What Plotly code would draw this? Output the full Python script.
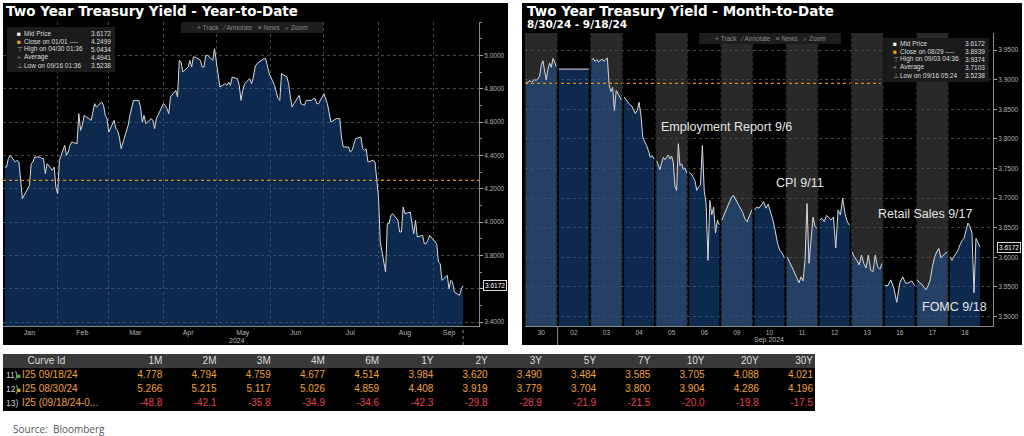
import pandas as pd
import plotly.graph_objects as go

W, H = 1024, 436

# ---- YTD panel: 2Y yield per trading day ----
ytd_jan = [4.33, 4.33, 4.38, 4.40, 4.36, 4.37, 4.36, 4.25, 4.14, 4.22, 4.35, 4.36, 4.39, 4.39, 4.38, 4.38, 4.29, 4.35, 4.31, 4.33, 4.21]
ytd_feb = [4.17, 4.37, 4.46, 4.40, 4.42, 4.46, 4.48, 4.47, 4.65, 4.55, 4.58, 4.64, 4.61, 4.66, 4.71, 4.69, 4.72, 4.70, 4.64, 4.62]
ytd_mar = [4.54, 4.61, 4.56, 4.55, 4.51, 4.44, 4.54, 4.58, 4.64, 4.69, 4.73, 4.73, 4.69, 4.60, 4.64, 4.59, 4.62, 4.61, 4.56, 4.62]
ytd_apr = [4.71, 4.70, 4.68, 4.65, 4.75, 4.79, 4.75, 4.97, 4.96, 4.90, 4.93, 4.97, 4.93, 4.99, 4.99, 4.97, 4.93, 4.93, 5.00, 5.00, 4.97, 5.04]
ytd_may = [4.96, 4.88, 4.81, 4.83, 4.82, 4.84, 4.82, 4.87, 4.86, 4.82, 4.73, 4.79, 4.83, 4.86, 4.83, 4.87, 4.93, 4.95, 4.98, 4.98, 4.93, 4.89]
ytd_jun = [4.82, 4.77, 4.74, 4.73, 4.89, 4.87, 4.83, 4.75, 4.69, 4.71, 4.76, 4.71, 4.70, 4.73, 4.73, 4.74, 4.74, 4.71, 4.71]
ytd_jul = [4.77, 4.74, 4.71, 4.60, 4.62, 4.62, 4.62, 4.51, 4.45, 4.45, 4.42, 4.43, 4.46, 4.50, 4.51, 4.44, 4.43, 4.44, 4.36, 4.37, 4.36, 4.26]
ytd_aug = [4.15, 3.88, 3.70, 3.99, 3.99, 4.04, 4.05, 4.01, 3.94, 3.94, 4.09, 4.05, 4.06, 3.99, 3.93, 4.01, 3.91, 3.92, 3.87, 3.87, 3.89, 3.92]
ytd_sep = [3.87, 3.76, 3.75, 3.65, 3.68, 3.60, 3.65, 3.64, 3.58, 3.56, 3.60, 3.6172]
holidays = ["2024-01-15", "2024-02-19", "2024-03-29", "2024-05-27", "2024-06-19", "2024-07-04", "2024-09-02"]

# month labels sit in the middle of the data shown for each month
ytd_month_ticks = ["2024-01-16", "2024-02-15", "2024-03-16", "2024-04-15", "2024-05-16",
                   "2024-06-15", "2024-07-16", "2024-08-16", "2024-09-10"]
ytd_month_names = ["Jan", "Feb", "Mar", "Apr", "May", "Jun", "Jul", "Aug", "Sep"]
# y labels; 3.6000 is hidden behind the last-price tag
ytd_yticks = [3.4, 3.6, 3.8, 4.0, 4.2, 4.4, 4.6, 4.8, 5.0]
ytd_ylabels = ["3.4000", "", "3.8000", "4.0000", "4.2000", "4.4000", "4.6000", "4.8000", "5.0000"]

ytd_close_ref = 4.2499
ytd_legend_labels = ["Mid Price", "Close on 01/01 ----", "High on 04/30 01:36", "Average", "Low on 09/16 01:36"]
ytd_legend_values = ["3.6172", "4.2499", "5.0434", "4.4941", "3.5238"]

# ---- MTD panel: intraday points per session ----
mtd_days = ["30", "02", "03", "04", "05", "06", "09", "10", "11", "12", "13", "16", "17", "18"]
d30 = [3.897, 3.895, 3.899, 3.896, 3.898, 3.900, 3.899, 3.903, 3.906, 3.925, 3.932, 3.915, 3.900, 3.918, 3.928, 3.921, 3.936, 3.930, 3.922]
d02 = [3.918, 3.918]
d03 = [3.933, 3.936, 3.931, 3.934, 3.930, 3.933, 3.935, 3.931, 3.934, 3.937, 3.892, 3.880, 3.887, 3.848, 3.882, 3.876, 3.871, 3.866]
d04 = [3.871, 3.866, 3.862, 3.858, 3.856, 3.850, 3.843, 3.848, 3.862, 3.840, 3.803, 3.795, 3.789, 3.780, 3.769, 3.772, 3.766]
d05 = [3.763, 3.757, 3.748, 3.760, 3.769, 3.765, 3.770, 3.773, 3.766, 3.771, 3.760, 3.719, 3.713, 3.792, 3.755, 3.758, 3.749, 3.751, 3.742]
d06 = [3.744, 3.741, 3.736, 3.730, 3.713, 3.719, 3.722, 3.789, 3.712, 3.690, 3.595, 3.696, 3.672, 3.685, 3.641, 3.663, 3.655]
d09 = [3.663, 3.672, 3.680, 3.690, 3.700, 3.705, 3.698, 3.691, 3.683, 3.676, 3.665, 3.660, 3.671, 3.680]
d10 = [3.680, 3.685, 3.683, 3.688, 3.694, 3.683, 3.690, 3.676, 3.663, 3.645, 3.624, 3.612, 3.607, 3.599]
d11 = [3.601, 3.595, 3.587, 3.580, 3.573, 3.565, 3.557, 3.567, 3.560, 3.595, 3.691, 3.590, 3.624, 3.668, 3.652, 3.649]
d12 = [3.663, 3.666, 3.660, 3.671, 3.667, 3.663, 3.668, 3.616, 3.680, 3.672, 3.700, 3.674, 3.660, 3.654]
d13 = [3.609, 3.600, 3.595, 3.587, 3.604, 3.590, 3.582, 3.604, 3.578, 3.576, 3.604, 3.584, 3.580, 3.590]
d16 = [3.553, 3.552, 3.562, 3.548, 3.524, 3.557, 3.567, 3.556, 3.557, 3.560, 3.552]
d17 = [3.562, 3.557, 3.555, 3.550, 3.545, 3.552, 3.562, 3.584, 3.600, 3.609, 3.615, 3.599, 3.604, 3.607, 3.609]
d18 = [3.601, 3.595, 3.601, 3.606, 3.612, 3.621, 3.628, 3.632, 3.645, 3.658, 3.652, 3.641, 3.540, 3.632, 3.625, 3.617]
mtd_values = [d30, d02, d03, d04, d05, d06, d09, d10, d11, d12, d13, d16, d17, d18]

mtd_close_ref = 3.8939
mtd_legend_labels = ["Mid Price", "Close on 08/29 ----", "High on 09/03 04:36", "Average", "Low on 09/16 05:24"]
mtd_legend_values = ["3.6172", "3.8939", "3.9374", "3.7103", "3.5238"]

events = ["Employment Report 9/6", "CPI 9/11", "Retail Sales 9/17", "FOMC 9/18"]

# ---- curve table ----
tenors = ["1M", "2M", "3M", "4M", "6M", "1Y", "2Y", "3Y", "5Y", "7Y", "10Y", "20Y", "30Y"]
curve_rows = ["I25 09/18/24", "I25 08/30/24", "I25 (09/18/24-0..."]
curve_row_ids = ["11)", "12)", "13)"]
curve_0918 = [4.778, 4.794, 4.759, 4.677, 4.514, 3.984, 3.620, 3.490, 3.484, 3.585, 3.705, 4.088, 4.021]
curve_0830 = [5.266, 5.215, 5.117, 5.026, 4.859, 4.408, 3.919, 3.779, 3.704, 3.800, 3.904, 4.286, 4.196]
curve_chg = [-48.8, -42.1, -35.8, -34.9, -34.6, -42.3, -29.8, -28.9, -21.9, -21.5, -20.0, -19.8, -17.5]


def px(x):
    return x / W


def py(y):
    return 1 - y / H


FILL = "rgba(30,95,178,0.44)"
LINE = "#d9d9d9"
GRID = "#474747"
AXIS_TXT = "#b4b4b4"
ORANGE = "#f0a23c"
RED = "#e8414b"
TXT = "Liberation Sans"

fig = go.Figure()

# YTD series
ytd_dates = pd.bdate_range("2024-01-02", "2024-09-18").difference(pd.to_datetime(holidays))
ytd_values = ytd_jan + ytd_feb + ytd_mar + ytd_apr + ytd_may + ytd_jun + ytd_jul + ytd_aug + ytd_sep
n = min(len(ytd_dates), len(ytd_values))
fig.add_trace(go.Scatter(
    x=ytd_dates[:n], y=ytd_values[:n], mode="lines",
    line=dict(color=LINE, width=1), fill="tozeroy", fillcolor=FILL,
    xaxis="x", yaxis="y", hoverinfo="skip", showlegend=False,
))

# MTD sessions, one trace each
for i, vals in enumerate(mtd_values):
    k = len(vals) - 1
    xs = [i + 0.04 + 0.92 * j / k for j in range(len(vals))]
    fig.add_trace(go.Scatter(
        x=xs, y=vals, mode="lines",
        line=dict(color=LINE, width=1), fill="tozeroy", fillcolor=FILL,
        xaxis="x2", yaxis="y2", hoverinfo="skip", showlegend=False,
    ))

# curve table: plotly pads text 8px from the top of a cell, so the cells are
# transparent, the table sits 6px higher and the backgrounds are drawn as shapes
TBL_TOP, ROW_H = 354, 14
cell_vals = [[""] * 3, curve_rows] + [[f"{a:.3f}", f"{b:.3f}", f"{c:.1f}"] for a, b, c in zip(curve_0918, curve_0830, curve_chg)]
cell_colors = [[ORANGE] * 3, [ORANGE] * 3] + [[ORANGE, ORANGE, RED]] * len(tenors)
fig.add_trace(go.Table(
    domain=dict(x=[px(3), px(821)], y=[py(TBL_TOP + 70), py(TBL_TOP - 6)]),
    columnwidth=[11, 102] + [54.2] * len(tenors),
    header=dict(values=["", "\u00a0\u00a0Curve Id"] + tenors, fill_color="rgba(0,0,0,0)", line_color="rgba(0,0,0,0)",
                font=dict(color="#dedede", size=10, family=TXT),
                align=["left", "left"] + ["right"] * len(tenors), height=ROW_H),
    cells=dict(values=cell_vals, fill_color="rgba(0,0,0,0)", line_color="rgba(0,0,0,0)",
               font=dict(color=cell_colors, size=10, family=TXT),
               align=["left", "left"] + ["right"] * len(tenors), height=ROW_H),
))

shapes = [
    dict(type="rect", xref="paper", yref="paper", x0=px(3), x1=px(508), y0=py(345), y1=py(3),
         fillcolor="black", line_width=0, layer="below"),
    dict(type="rect", xref="paper", yref="paper", x0=px(522), x1=px(1022), y0=py(345), y1=py(3),
         fillcolor="black", line_width=0, layer="below"),
    # table backgrounds
    dict(type="rect", xref="paper", yref="paper", x0=px(3), x1=px(815), y0=py(TBL_TOP + ROW_H), y1=py(TBL_TOP),
         fillcolor="#393939", line_width=0, layer="below"),
    dict(type="rect", xref="paper", yref="paper", x0=px(3), x1=px(815), y0=py(TBL_TOP + 4 * ROW_H + 1),
         y1=py(TBL_TOP + ROW_H), fillcolor="black", line_width=0, layer="below"),
    # reference close lines
    dict(type="line", xref="x domain", yref="y", x0=0, x1=1, y0=ytd_close_ref, y1=ytd_close_ref,
         line=dict(color="#e08a1e", width=1.2, dash="dot"), layer="above"),
    dict(type="line", xref="x2 domain", yref="y2", x0=0, x1=0.76, y0=mtd_close_ref, y1=mtd_close_ref,
         line=dict(color="#e08a1e", width=1.2, dash="dot"), layer="above"),
    # separators under the axes
    dict(type="line", xref="x2", yref="paper", x0=1, x1=1, y0=py(345), y1=py(326),
         line=dict(color="#888", width=1)),
    dict(type="line", xref="x", yref="paper", x0=ytd_dates[n - 1], x1=ytd_dates[n - 1], y0=py(345), y1=py(327),
         line=dict(color="#888", width=1, dash="dot")),
]
# alternating session shading + session separators
for i in range(len(mtd_days)):
    if i % 2 == 0:
        shapes.append(dict(type="rect", xref="x2", yref="y2 domain", x0=i, x1=i + 1, y0=0, y1=1,
                           fillcolor="#292929", line_width=0, layer="below"))
    if i > 0:
        shapes.append(dict(type="line", xref="x2", yref="y2 domain", x0=i, x1=i, y0=0, y1=1,
                           line=dict(color="rgba(0,0,0,0.85)", width=1.5, dash="dot"), layer="above"))

notes = []


def text(x, y, s, size=7, color="#dddddd", anchor="left", family=TXT, **kw):
    notes.append(dict(x=px(x), y=py(y), xref="paper", yref="paper", text=s, showarrow=False,
                      xanchor=anchor, yanchor="middle", font=dict(size=size, color=color, family=family), **kw))


# titles
text(4, 11.5, "<b>Two Year Treasury Yield - Year-to-Date</b>", 13.5, "white", family="DejaVu Sans")
text(525, 11.5, "<b>Two Year Treasury Yield - Month-to-Date</b>", 13.5, "white", family="DejaVu Sans")
text(525, 24.5, "<b>8/30/24 - 9/18/24</b>", 10.5, "white", family="DejaVu Sans")

# toolbars
for x0, y0 in [(181, 22), (699, 33)]:
    shapes.append(dict(type="rect", xref="paper", yref="paper", x0=px(x0), x1=px(x0 + 142), y0=py(y0 + 11), y1=py(y0),
                       fillcolor="#1e1e1e", line_width=0, layer="above"))
    text(x0 + 71, y0 + 5.5, "+ Track   ⁄ Annotate   ≡ News   ⌕ Zoom", 6.5, "#8a8a8a", anchor="center")

# legend boxes
icons = [("■", "white"), ("■", "#f29a1f"), ("⊤", "#999"), ("+", "#999"), ("⊥", "#999")]
for (bx0, by0, bx1, by1, row0, labels, values) in [
    (7, 27, 115, 72, 33, ytd_legend_labels, ytd_legend_values),
    (883, 38, 989, 82, 43, mtd_legend_labels, mtd_legend_values),
]:
    shapes.append(dict(type="rect", xref="paper", yref="paper", x0=px(bx0), x1=px(bx1), y0=py(by1), y1=py(by0),
                       fillcolor="#1b1b1b", line_width=0, layer="above"))
    for k, (lab, val) in enumerate(zip(labels, values)):
        y = row0 + k * 8.1
        text(bx0 + 8, y, icons[k][0], 6.5, icons[k][1])
        text(bx0 + 15, y, lab, 6.5, "#dddddd")
        text(bx1 - 2, y, val, 6.5, "#dddddd", anchor="right")

# last-price tags
notes.append(dict(x=px(483), y=ytd_values[n - 1], xref="paper", yref="y", text="3.6172", showarrow=False,
                  xanchor="left", font=dict(size=6.5, color="white", family=TXT),
                  bgcolor="black", bordercolor="#dddddd", borderwidth=1, borderpad=1))
notes.append(dict(x=px(997), y=d18[-1], xref="paper", yref="y2", text="3.6172", showarrow=False,
                  xanchor="left", font=dict(size=6.5, color="white", family=TXT),
                  bgcolor="black", bordercolor="#dddddd", borderwidth=1, borderpad=1))

# axis captions
text(237, 340, "2024", 7, AXIS_TXT, anchor="center")
text(769, 340, "Sep 2024", 7, AXIS_TXT, anchor="center")

# event labels
for s, (x, y) in zip(events, [(726, 127), (800, 183), (925, 214), (954, 307)]):
    text(x, y, s, 12.5, "#e4e4e4", anchor="center")

# table row ids and curve colour keys
for k, (rid, key) in enumerate(zip(curve_row_ids, ["#3cc43c", "#c9b531", None])):
    y = TBL_TOP + ROW_H * (k + 1.5)
    text(4, y, rid, 8.5, "#d0d0d0")
    if key:
        text(15, y, "■", 6.5, key)

text(11, 429, "Source:  Bloomberg", 10, "#555555", family="Open Sans")

axis_common = dict(showline=True, linecolor="#8a8a8a", linewidth=1, zeroline=False,
                   tickfont=dict(size=7, color=AXIS_TXT, family=TXT))
fig.update_layout(
    width=W, height=H, margin=dict(l=0, r=0, t=0, b=0),
    paper_bgcolor="white", plot_bgcolor="black", showlegend=False,
    xaxis=dict(axis_common, type="date", domain=[px(3), px(479)], anchor="y",
               range=["2024-01-01", "2024-09-27"],
               tickvals=ytd_month_ticks, ticktext=ytd_month_names, ticks="", showgrid=False,
               minor=dict(dtick="M1", tick0="2024-01-01", showgrid=True, gridcolor=GRID, griddash="dot")),
    yaxis=dict(axis_common, domain=[py(326), py(22)], anchor="x", side="right",
               range=[3.376, 5.2], tickvals=ytd_yticks, ticktext=ytd_ylabels,
               ticks="outside", ticklen=3, tickcolor="#aaa",
               minor=dict(dtick=0.1, ticks="outside", ticklen=2, tickcolor="#888"),
               showgrid=True, gridcolor=GRID, griddash="dot", tickfont=dict(size=6.5, color=AXIS_TXT, family=TXT)),
    xaxis2=dict(axis_common, domain=[px(525), px(993)], anchor="y2",
                range=[0, 14.36], tickvals=[i + 0.5 for i in range(len(mtd_days))], ticktext=mtd_days,
                ticks="", showgrid=False, tickfont=dict(size=6.5, color=AXIS_TXT, family=TXT)),
    yaxis2=dict(axis_common, domain=[py(326), py(33)], anchor="x2", side="right",
                range=[3.484, 3.979], tick0=3.5, dtick=0.05, tickformat=".4f",
                ticks="outside", ticklen=3, tickcolor="#aaa",
                showgrid=True, gridcolor=GRID, griddash="dot", tickfont=dict(size=6.5, color=AXIS_TXT, family=TXT)),
    shapes=shapes, annotations=notes,
)

# drop the browser's default page margin so the figure sits at the window origin
fig.write_html("out.html", config={"displayModeBar": False},
               post_script="document.body.style.margin='0';document.body.style.overflow='hidden';")
